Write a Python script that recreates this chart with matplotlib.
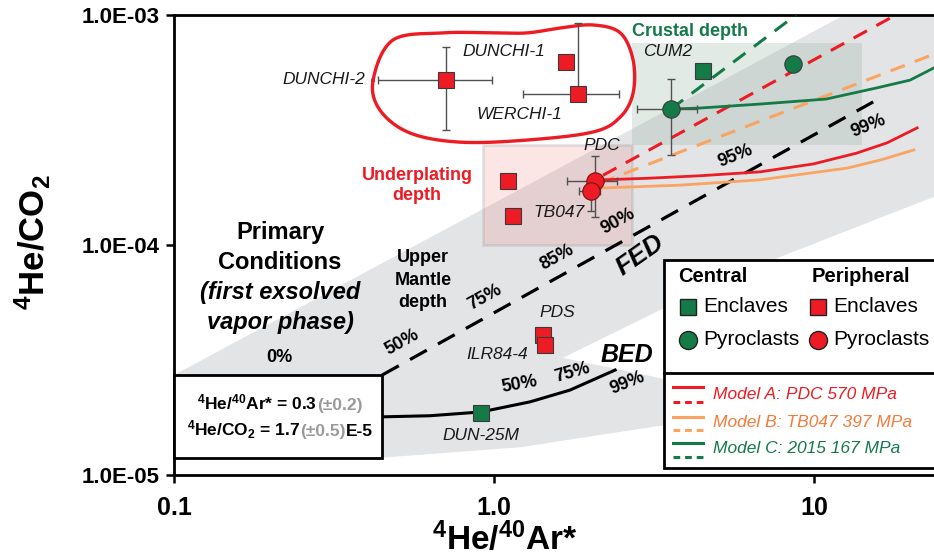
import numpy as np
import matplotlib
matplotlib.use("Agg")
import matplotlib.pyplot as plt
from matplotlib import font_manager as fm
from matplotlib.patches import Rectangle, Polygon
from matplotlib.offsetbox import TextArea, HPacker, VPacker, AnnotationBbox

# ---------------- data ----------------
x_ticks = [0.1, 1.0, 10.0]
x_ticklabels = ["0.1", "1.0", "10"]
y_ticks = [1e-5, 1e-4, 1e-3]
y_ticklabels = ["1.0E-05", "1.0E-04", "1.0E-03"]

# central (green) samples
central_enclaves_x = [4.50, 0.91]          # CUM2, DUN-25M
central_enclaves_y = [5.71e-4, 1.86e-5]
central_pyro_x = [3.57, 8.6]
central_pyro_y = [3.90e-4, 6.12e-4]

# peripheral (red) samples
periph_enclaves_x = [0.708, 1.68, 1.83, 1.106, 1.146, 1.42, 1.44]
periph_enclaves_y = [5.21e-4, 6.25e-4, 4.54e-4, 1.90e-4, 1.34e-4, 4.06e-5, 3.67e-5]
periph_pyro_x = [2.07, 2.01]               # PDC, TB047
periph_pyro_y = [1.90e-4, 1.72e-4]

# error bars: x, y, xlo, xhi, ylo, yhi
err_x = [0.708, 1.83, 2.07, 2.01, 3.57, 0.91]
err_y = [5.21e-4, 4.54e-4, 1.90e-4, 1.72e-4, 3.90e-4, 1.86e-5]
err_xlo = [0.434, 1.23, 1.69, 1.84, 2.80, 0.91]
err_xhi = [0.986, 2.46, 2.42, 2.14, 4.31, 0.91]
err_ylo = [3.16e-4, 4.54e-4, 1.32e-4, 1.40e-4, 2.46e-4, 1.80e-5]
err_yhi = [7.27e-4, 9.20e-4, 2.44e-4, 1.72e-4, 5.27e-4, 1.93e-5]

# FED (dashed black) and BED (solid black)
fed_x = [0.447, 15.3]
fed_y = [2.72e-5, 4.19e-4]
bed_x = [0.447, 0.631, 0.911, 1.296, 1.727, 2.39]
bed_y = [1.79e-5, 1.81e-5, 1.88e-5, 2.08e-5, 2.34e-5, 2.86e-5]

# degassing models (solid = closed-system, dashed = open-system)
modelA_x = [2.175, 3.01, 4.40, 6.78, 9.93, 13.6, 16.9, 21.0]
modelA_y = [1.92e-4, 1.95e-4, 2.00e-4, 2.08e-4, 2.25e-4, 2.51e-4, 2.78e-4, 3.23e-4]
modelB_x = [2.175, 3.81, 6.78, 12.7, 16.1, 20.5]
modelB_y = [1.77e-4, 1.82e-4, 1.92e-4, 2.16e-4, 2.34e-4, 2.59e-4]
modelC_x = [3.57, 4.40, 6.78, 10.9, 15.7, 19.95, 23.7]
modelC_y = [3.90e-4, 3.94e-4, 4.10e-4, 4.31e-4, 4.82e-4, 5.21e-4, 5.89e-4]
modelA_dash_x = [2.19, 18.0]
modelA_dash_y = [2.01e-4, 1.0e-3]
modelB_dash_x = [2.14, 23.7]
modelB_dash_y = [1.86e-4, 6.76e-4]
modelC_dash_x = [3.57, 8.78]
modelC_dash_y = [3.90e-4, 1.0e-3]

# shaded fields
band_x = [0.1, 23.7, 23.7, 7.83, 3.30, 1.64, 3.30, 4.40, 4.40, 3.14, 1.206, 0.447, 0.1]
band_y = [2.72e-5, 1.62e-3, 1.62e-4, 8.87e-5, 5.21e-5, 3.23e-5, 2.64e-5, 2.39e-5,
          1.73e-5, 1.62e-5, 1.32e-5, 1.19e-5, 1.19e-5]
underplating_box = dict(x0=0.924, x1=2.70, y0=1.0e-4, y1=2.72e-4)
crustal_box = dict(x0=2.70, x1=14.1, y0=2.72e-4, y1=7.55e-4)
primary_box = dict(x0=0.1, x1=0.447, y0=1.19e-5, y1=2.72e-5)

# outline around DUNCHI / WERCHI group
loop_x = [0.419, 0.483, 0.693, 0.993, 1.27, 1.61, 2.04, 2.48, 2.72, 2.72, 2.48,
          2.04, 1.27, 0.783, 0.546, 0.44]
loop_y = [5.21e-4, 7.78e-4, 8.36e-4, 8.36e-4, 8.36e-4, 8.78e-4, 9.05e-4, 8.36e-4,
          6.37e-4, 4.58e-4, 3.60e-4, 3.10e-4, 2.86e-4, 2.80e-4, 3.07e-4, 3.86e-4]

# ---------------- style ----------------
RED = "#ed1c24"
ORANGE = "#f9a462"
ORANGE_TXT = "#f47b3a"
GREEN = "#147a47"
GREEN_TXT = "#157a4a"
GRAY_BAND = "#e3e4e6"
EDGE = "#3a3a3a"

names = {f.name for f in fm.fontManager.ttflist}
BASE = "Liberation Sans" if "Liberation Sans" in names else "DejaVu Sans"
NARROW = "Liberation Sans Narrow" if "Liberation Sans Narrow" in names else BASE
plt.rcParams["font.family"] = [BASE, "DejaVu Sans"]
plt.rcParams["mathtext.fontset"] = "custom"
plt.rcParams["mathtext.rm"] = BASE
plt.rcParams["mathtext.bf"] = BASE + ":bold"
plt.rcParams["mathtext.it"] = BASE + ":italic"

fig = plt.figure(figsize=(9.34, 5.58), dpi=100)
ax = fig.add_axes([174 / 934, 83 / 558, 760 / 934, 460 / 558])
ax.set_xscale("log")
ax.set_yscale("log")
ax.set_xlim(0.1, 23.7)
ax.set_ylim(1e-5, 1e-3)

# shaded fields
ax.add_patch(Polygon(np.column_stack([band_x, band_y]), closed=True,
                     facecolor=GRAY_BAND, edgecolor="none", zorder=0))
b = underplating_box
ax.add_patch(Rectangle((b["x0"], b["y0"]), b["x1"] - b["x0"], b["y1"] - b["y0"],
                       facecolor=(0.93, 0.45, 0.45, 0.18), edgecolor=(0.6, 0.6, 0.6, 0.25),
                       lw=2, zorder=1))
b = crustal_box
ax.add_patch(Rectangle((b["x0"], b["y0"]), b["x1"] - b["x0"], b["y1"] - b["y0"],
                       facecolor=(0.55, 0.68, 0.62, 0.25), edgecolor="none", zorder=1))

# lines
ax.plot(fed_x, fed_y, color="black", lw=2.3, dashes=(6, 4), zorder=3)
ax.plot(bed_x, bed_y, color="black", lw=2.2, zorder=3)
ax.plot(modelA_dash_x, modelA_dash_y, color=RED, lw=2.2, dashes=(5, 3.5), zorder=3)
ax.plot(modelB_dash_x, modelB_dash_y, color=ORANGE, lw=2.2, dashes=(5, 3.5), zorder=3)
ax.plot(modelC_dash_x, modelC_dash_y, color=GREEN, lw=2.2, dashes=(5, 3.5), zorder=3)
ax.plot(modelA_x, modelA_y, color=RED, lw=2.0, zorder=3)
ax.plot(modelB_x, modelB_y, color=ORANGE, lw=2.0, zorder=3)
ax.plot(modelC_x, modelC_y, color=GREEN, lw=2.0, zorder=3)


def closed_spline(xs, ys, n=24):
    P = np.column_stack([np.log10(xs), np.log10(ys)])
    m = len(P)
    t = np.linspace(0, 1, n, endpoint=False)[:, None]
    segs = []
    for i in range(m):
        p0, p1, p2, p3 = P[(i - 1) % m], P[i], P[(i + 1) % m], P[(i + 2) % m]
        segs.append(0.5 * (2 * p1 + (-p0 + p2) * t + (2 * p0 - 5 * p1 + 4 * p2 - p3) * t ** 2
                           + (-p0 + 3 * p1 - 3 * p2 + p3) * t ** 3))
    out = np.vstack(segs + [P[:1]])
    return 10 ** out[:, 0], 10 ** out[:, 1]


lx, ly = closed_spline(loop_x, loop_y)
ax.plot(lx, ly, color=RED, lw=2.4, zorder=3)

# primary-conditions box
b = primary_box
ax.add_patch(Rectangle((b["x0"], b["y0"]), b["x1"] - b["x0"], b["y1"] - b["y0"],
                       facecolor="white", edgecolor="black", lw=2.0, zorder=4, clip_on=False))

# error bars
for x, y, xl, xh, yl, yh in zip(err_x, err_y, err_xlo, err_xhi, err_ylo, err_yhi):
    ax.errorbar([x], [y], xerr=[[x - xl], [xh - x]], yerr=[[y - yl], [yh - y]],
                fmt="none", ecolor="#505050", elinewidth=1.0, capsize=3, capthick=1.0, zorder=5)

# markers
ax.plot(periph_enclaves_x, periph_enclaves_y, "s", ms=11, mfc=RED, mec=EDGE, mew=0.8, zorder=6, ls="none")
ax.plot(central_enclaves_x, central_enclaves_y, "s", ms=11, mfc=GREEN, mec=EDGE, mew=0.8, zorder=6, ls="none")
ax.plot(periph_pyro_x, periph_pyro_y, "o", ms=12.5, mfc=RED, mec="#7a1010", mew=0.8, zorder=6, ls="none")
ax.plot(central_pyro_x, central_pyro_y, "o", ms=12.5, mfc=GREEN, mec=EDGE, mew=0.8, zorder=6, ls="none")

# axes styling
for s in ["left", "bottom", "top"]:
    ax.spines[s].set_linewidth(2.0)
ax.spines["right"].set_visible(False)
ax.set_xticks(x_ticks)
ax.set_xticklabels(x_ticklabels)
ax.set_yticks(y_ticks)
ax.set_yticklabels(y_ticklabels)
ax.minorticks_off()
ax.tick_params(axis="both", direction="out", length=6, width=1.8, color="black")
for lab in ax.get_yticklabels():
    lab.set_fontweight("bold")
    lab.set_fontsize(16)
for lab in ax.get_xticklabels():
    lab.set_fontweight("bold")
    lab.set_fontsize(18)
    lab.set_family(NARROW)
ax.tick_params(axis="y", pad=4)
ax.tick_params(axis="x", pad=9)

fig.text(505 / 934, 1 - 557 / 558, r"$^{\mathbf{4}}$He/$^{\mathbf{40}}$Ar*", ha="center", va="bottom",
         fontsize=24, fontweight="bold", family=NARROW)
fig.text(33 / 934, 1 - 242 / 558, r"$^{\mathbf{4}}$He/CO$_{\mathbf{2}}$", ha="center", va="center",
         rotation=90, fontsize=25, fontweight="bold", family=NARROW)

T = ax.transAxes


def fx(px):
    return (px - 174) / 760


def fy(py):
    return (475 - py) / 459


def txt(px, py, s, **kw):
    kw.setdefault("zorder", 7)
    return ax.text(fx(px), fy(py), s, transform=T, **kw)


# sample labels
it = dict(style="italic", fontsize=12.5, color="#1a1a1a")
txt(365, 80, "DUNCHI-2", ha="right", va="center", **it)
txt(462, 52, "DUNCHI-1", ha="left", va="center", **it)
txt(477, 115, "WERCHI-1", ha="left", va="center", **it)
txt(602, 146, "PDC", ha="center", va="center", **it)
txt(533, 213, "TB047", ha="left", va="center", **it)
txt(643, 52, "CUM2", ha="left", va="center", **it)
txt(557, 313, "PDS", ha="center", va="center", **it)
txt(497, 355, "ILR84-4", ha="center", va="center", **it)
txt(481, 436, "DUN-25M", ha="center", va="center", **it)

txt(632, 32, "Crustal depth", ha="left", va="center", fontsize=13, fontweight="bold", color=GREEN_TXT)
txt(417, 186, "Underplating\ndepth", ha="center", va="center", fontsize=13, fontweight="bold",
    color=RED, linespacing=1.2)

for py, s, st in [(233, "Primary", "normal"), (263, "Conditions", "normal"),
                  (293, "(first exsolved", "italic"), (323, "vapor phase)", "italic")]:
    txt(280, py, s, ha="center", va="center", fontsize=17, fontweight="bold", style=st)
txt(279, 358, "0%", ha="center", va="center", fontsize=13, fontweight="bold")
for py, s in [(258, "Upper"), (281, "Mantle"), (303, "depth")]:
    txt(423, py, s, ha="center", va="center", fontsize=13, fontweight="bold")

txt(627, 355, "BED", ha="center", va="center", fontsize=18, fontweight="bold", style="italic")
txt(640, 256, "FED", ha="center", va="center", fontsize=19, fontweight="bold", style="italic",
    rotation=35)

pct = dict(ha="center", va="center", fontsize=13, fontweight="bold")
for px, py, s, r in [(402, 343, "50%", 29), (485, 298, "75%", 29), (557, 258, "85%", 29),
                     (618, 222, "90%", 29), (735, 157, "95%", 22), (868, 127, "99%", 22),
                     (520, 385, "50%", 10), (572, 373, "75%", 16), (627, 383, "99%", 22)]:
    txt(px, py, s, rotation=r, **pct)

# text inside the primary-conditions box
bold13 = dict(fontsize=12.5, fontweight="bold", color="black")
gray13 = dict(fontsize=12.5, fontweight="bold", color="#9a9a9a")
row1 = HPacker(children=[TextArea(r"$^{\mathbf{4}}$He/$^{\mathbf{40}}$Ar* = 0.3", textprops=bold13),
                         TextArea("(±0.2)", textprops=gray13)], pad=0, sep=0, align="baseline")
row2 = HPacker(children=[TextArea(r"$^{\mathbf{4}}$He/CO$_{\mathbf{2}}$ = 1.7", textprops=bold13),
                         TextArea("(±0.5)", textprops=gray13),
                         TextArea("E-5", textprops=bold13)], pad=0, sep=0, align="baseline")
box = VPacker(children=[row1, row2], pad=0, sep=4, align="center")
ab = AnnotationBbox(box, (fx(280), fy(417)), xycoords=T, frameon=False, zorder=8)
ax.add_artist(ab)

# legend (drawn by hand)
lx0, ly0, ly1 = fx(664), fy(468), fy(260)
ax.add_patch(Rectangle((lx0, ly0), 1.06 - lx0, ly1 - ly0, transform=T, facecolor="white",
                       edgecolor="black", lw=2.0, zorder=9, clip_on=False))
ax.plot([lx0, 1.06], [fy(373), fy(373)], transform=T, color="black", lw=2.0, zorder=10, clip_on=False)
leg = dict(transform=T, zorder=11, va="center")
ax.text(fx(678), fy(277), "Central", ha="left", fontsize=14.5, fontweight="bold", **leg)
ax.text(fx(812), fy(277), "Peripheral", ha="left", fontsize=14.5, fontweight="bold", **leg)
for mx, col in [(688, GREEN), (818, RED)]:
    ax.plot([fx(mx)], [fy(307)], "s", ms=11, mfc=col, mec="#222222", mew=1.0, transform=T,
            zorder=11, clip_on=False)
    ax.plot([fx(mx)], [fy(340)], "o", ms=13, mfc=col, mec="#222222", mew=1.0, transform=T,
            zorder=11, clip_on=False)
    ax.text(fx(mx + 15), fy(307), "Enclaves", ha="left", fontsize=15, **leg)
    ax.text(fx(mx + 15), fy(340), "Pyroclasts", ha="left", fontsize=15, **leg)

for (sy, dy, ty, col, tcol, label) in [
        (387, 402, 395, RED, RED, "Model A: PDC 570 MPa"),
        (417, 430, 423, ORANGE, ORANGE_TXT, "Model B: TB047 397 MPa"),
        (443, 457, 449, GREEN, GREEN_TXT, "Model C: 2015 167 MPa")]:
    ax.plot([fx(673), fx(703)], [fy(sy), fy(sy)], transform=T, color=col, lw=2.2, zorder=11,
            clip_on=False)
    ax.plot([fx(673), fx(703)], [fy(dy), fy(dy)], transform=T, color=col, lw=2.2, zorder=11,
            dashes=(2.2, 1.6), clip_on=False)
    ax.text(fx(713), fy(ty), label, ha="left", fontsize=12.5, style="italic", color=tcol, **leg)

fig.savefig("out.png", dpi=100)
